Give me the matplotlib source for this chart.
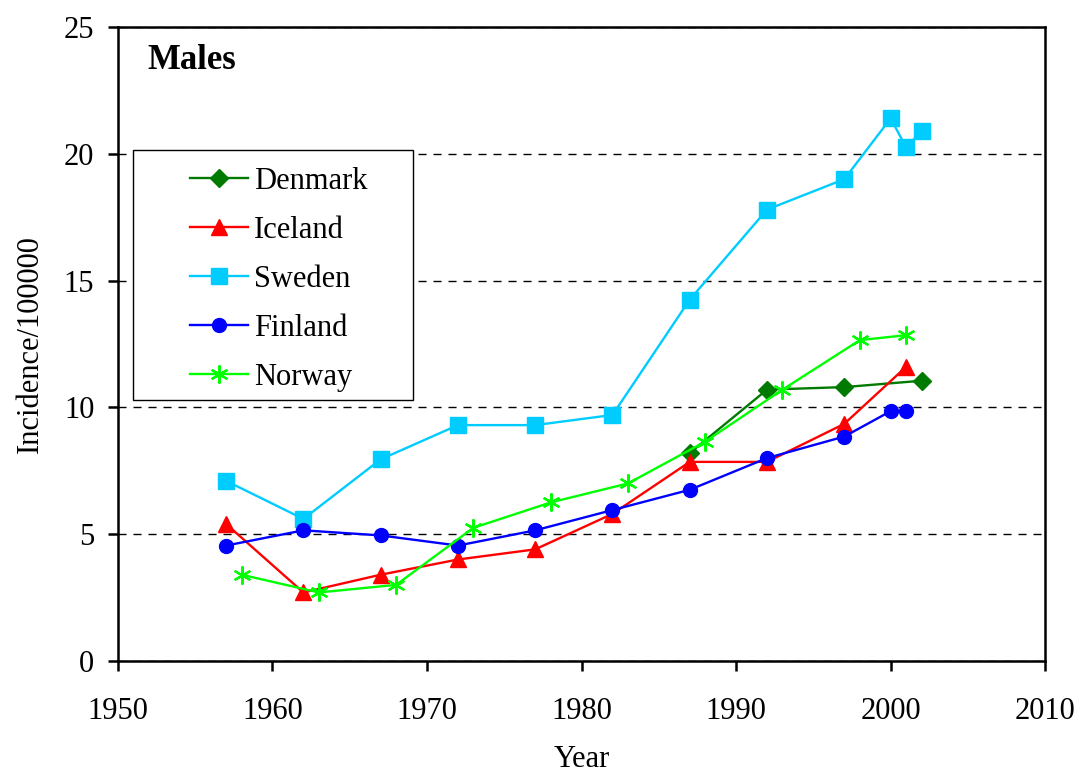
import matplotlib.pyplot as plt
from matplotlib.patches import Rectangle

plt.rcParams['font.family'] = ['Liberation Serif', 'DejaVu Serif']

# Data (incidence per 100000, males)
den_yr = [1987, 1992, 1997, 2002]
den_val = [8.2, 10.7, 10.8, 11.05]

ice_yr = [1957, 1962, 1967, 1972, 1977, 1982, 1987, 1992, 1997, 2001]
ice_val = [5.4, 2.7, 3.4, 4.0, 4.4, 5.8, 7.85, 7.85, 9.35, 11.6]

swe_yr = [1957, 1962, 1967, 1972, 1977, 1982, 1987, 1992, 1997, 2000, 2001, 2002]
swe_val = [7.1, 5.6, 7.95, 9.3, 9.3, 9.7, 14.25, 17.8, 19.0, 21.4, 20.25, 20.9]

fin_yr = [1957, 1962, 1967, 1972, 1977, 1982, 1987, 1992, 1997, 2000, 2001]
fin_val = [4.55, 5.15, 4.95, 4.55, 5.15, 5.95, 6.75, 8.0, 8.85, 9.85, 9.85]

nor_yr = [1958, 1963, 1968, 1973, 1978, 1983, 1988, 1993, 1998, 2001]
nor_val = [3.4, 2.7, 3.0, 5.25, 6.25, 7.0, 8.65, 10.7, 12.65, 12.85]

fig = plt.figure(figsize=(10.82, 7.73), dpi=100)
ax = fig.add_axes([0.109, 0.145, 0.857, 0.820])

lw = 1.7
ax.plot(den_yr, den_val, '-', color='#007a00', lw=lw, marker='D', ms=9, label='Denmark', zorder=3)
ax.plot(ice_yr, ice_val, '-', color='#ff0000', lw=lw, marker='^', ms=12, label='Iceland', zorder=3)
ax.plot(swe_yr, swe_val, '-', color='#00ccff', lw=lw, marker='s', ms=12, label='Sweden', zorder=3)
ax.plot(fin_yr, fin_val, '-', color='#0000ff', lw=lw, marker='o', ms=10, label='Finland', zorder=3)
ax.plot(nor_yr, nor_val, '-', color='#00ff00', lw=lw, marker=(6, 2, 0), ms=13, mew=1.6,
        label='Norway', zorder=3)

ax.set_xlim(1950, 2010)
ax.set_ylim(0, 25)
ax.set_xticks(range(1950, 2011, 10))
ax.set_yticks(range(0, 26, 5))
ax.yaxis.grid(True, color='black', ls=(0, (5.8, 5)), lw=1.0)
ax.set_axisbelow(True)
for s in ax.spines.values():
    s.set_linewidth(1.8)
ax.tick_params(direction='out', length=7, width=1.8, labelsize=22)
ax.tick_params(axis='x', pad=19)
ax.tick_params(axis='y', pad=10)

ax.set_xlabel('Year', fontsize=22, labelpad=14)
ax.set_ylabel('Incidence/100000', fontsize=22, labelpad=14)

ax.text(0.032, 0.947, 'Males', transform=ax.transAxes, fontsize=25,
        fontweight='bold', va='center', ha='left')

# legend frame drawn separately (excel-style wide left indent)
ax.add_patch(Rectangle((0.0162, 0.4117), 0.302, 0.394, transform=ax.transAxes,
                       fill=True, facecolor='white', edgecolor='black', lw=1.0, zorder=4))
leg = ax.legend(loc='upper left', bbox_to_anchor=(0.0777, 0.779), frameon=False,
                fontsize=22, handlelength=1.9, handletextpad=0.2, labelspacing=0.65,
                borderpad=0, borderaxespad=0)
leg.set_zorder(5)

fig.savefig('out.png', dpi=100)
